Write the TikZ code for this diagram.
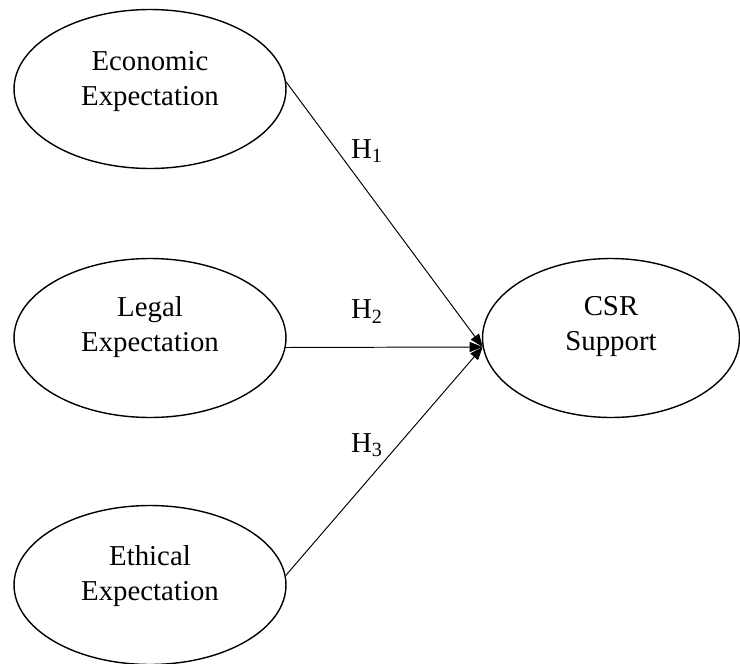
\documentclass[tikz,border=0pt]{standalone}
\usepackage{fontspec}
\setmainfont{Liberation Serif}
\usetikzlibrary{shapes.geometric,arrows.meta}
\begin{document}
\begin{tikzpicture}[x=0.02cm,y=-0.02cm,
    expect/.style={draw,ellipse,line width=0.8pt,minimum width=5.44cm,minimum height=3.18cm},
    txt/.style={align=center,inner sep=0pt,font=\fontsize{16.4}{19.9}\selectfont},
    hyp/.style={-{Triangle[length=0.26cm,width=0.2cm]},line width=0.55pt}]
  \useasboundingbox (0,0) rectangle (740,663);
  % ellipses
  \node[expect] (econ) at (150,89) {};
  \node[expect] (legal) at (150,338) {};
  \node[expect] (ethic) at (150,585) {};
  \node[expect,minimum width=5.14cm] (csr) at (611,338) {};
  % texts inside
  \node[txt] (econtxt) at (150,81.5) {Economic\\Expectation};
  \node[txt] (legaltxt) at (150,327) {Legal\\Expectation};
  \node[txt] (ethictxt) at (150,576) {Ethical\\Expectation};
  \node[txt] (csrtxt) at (611,327) {CSR\\Support};
  % hypotheses
  \coordinate (meet) at (csr.184);
  \draw[hyp] (econ.3) -- (meet);
  \draw[hyp] (legal.-4) -- (meet);
  \draw[hyp] (ethic.4) -- (meet);
  \node[txt] (h1) at (367,151) {H\textsubscript{1}};
  \node[txt] (h2) at (367,311.5) {H\textsubscript{2}};
  \node[txt] (h3) at (367,445) {H\textsubscript{3}};
\end{tikzpicture}
\end{document}
